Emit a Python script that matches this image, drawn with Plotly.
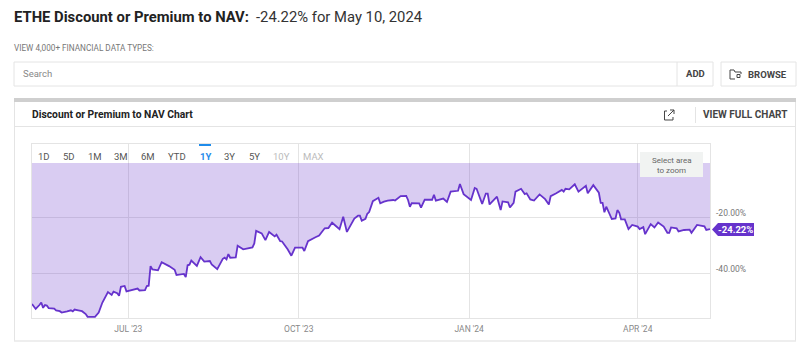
import pandas as pd
import plotly.graph_objects as go

START_DATE = "2023-05-10"
days_from_start = [0,2,4,5,6,7,8,9,12,13,15,16,19,21,22,23,25,27,29,30,34,36,38,41,43,44,46,47,48,50,51,54,57,58,61,62,63,64,65,68,70,74,77,78,82,83,84,85,86,89,91,93,96,97,100,103,104,105,106,107,110,111,114,119,120,121,124,126,128,131,132,134,135,138,140,142,146,147,149,153,155,158,160,162,166,168,170,174,176,177,178,180,181,182,184,187,188,190,192,195,196,199,202,203,204,205,209,210,212,216,217,218,222,224,226,230,231,233,237,239,240,243,245,246,247,251,253,254,257,258,260,261,264,266,267,269,271,274,277,279,280,283,286,287,288,290,293,295,299,300,303,306,307,308,309,310,313,315,316,317,318,320,322,324,327,328,330,331,334,336,338,341,343,344,345,348,349,352,355,356,359,363,364,366]
discount_pct = [-50.9,-52.7,-51.3,-50.4,-52.3,-51.3,-51.5,-52.4,-52.6,-53.2,-53.5,-54.0,-53.6,-53.2,-53.6,-52.9,-53.2,-53.5,-54.5,-55.5,-55.5,-54.0,-50.4,-46.7,-47.7,-46.5,-47.1,-48.0,-44.8,-44.5,-46.4,-46.0,-45.4,-46.1,-46.0,-44.5,-44.4,-37.4,-38.6,-38.9,-36.0,-37.4,-38.7,-40.6,-40.2,-41.3,-37.1,-36.9,-35.4,-37.3,-34.2,-35.8,-35.6,-36.8,-38.5,-34.8,-34.4,-35.0,-33.1,-34.4,-34.3,-30.1,-31.4,-30.7,-29.3,-24.8,-25.7,-28.1,-25.2,-26.8,-26.2,-28.5,-28.6,-31.4,-33.7,-30.8,-30.8,-32.0,-28.5,-27.1,-26.5,-23.9,-23.8,-21.9,-24.2,-19.8,-25.2,-20.4,-19.4,-19.4,-21.2,-20.5,-18.7,-18.1,-14.2,-13.0,-15.0,-14.4,-14.0,-13.8,-14.0,-12.4,-12.3,-13.8,-16.2,-14.9,-15.0,-16.5,-13.7,-13.7,-11.9,-14.0,-13.3,-14.5,-10.8,-10.5,-8.1,-11.7,-13.8,-9.5,-9.8,-15.2,-11.5,-11.5,-15.4,-12.6,-17.4,-14.3,-14.6,-16.5,-14.8,-10.8,-9.8,-11.7,-11.4,-13.6,-14.0,-11.8,-13.5,-15.4,-12.4,-11.4,-10.2,-10.8,-9.8,-10.0,-8.2,-10.8,-8.7,-11.4,-8.5,-11.2,-14.8,-14.8,-18.2,-16.2,-20.6,-20.4,-17.4,-18.3,-20.7,-20.7,-24.2,-22.7,-23.3,-24.2,-23.5,-26.0,-22.4,-23.6,-21.8,-23.3,-25.5,-25.5,-23.6,-23.9,-25.0,-24.5,-24.4,-25.5,-22.7,-23.2,-24.5,-24.22]
x_tick_dates = ["2023-07-01", "2023-10-01", "2024-01-01", "2024-04-01"]
x_tick_labels = ["JUL '23", "OCT '23", "JAN '24", "APR '24"]
y_tick_values = [-20, -40]
y_tick_labels = ["-20.00%", "-40.00%"]
range_buttons = ["1D", "5D", "1M", "3M", "6M", "YTD", "1Y", "3Y", "5Y", "10Y", "MAX"]
range_button_x = [44, 69, 95, 121, 148, 177, 205, 230, 254, 281, 313]

W, H = 808, 354
FONT = "Roboto"
PURPLE = "#6633CC"
dates = pd.Timestamp(START_DATE) + pd.to_timedelta(days_from_start, unit="D")
CEILING = -0.55


def px(x):
    return x / W


def py(y):
    return 1 - y / H


fig = go.Figure()
fig.add_trace(go.Scatter(x=dates, y=[CEILING] * len(dates), mode="lines",
                         line=dict(width=0), hoverinfo="skip", showlegend=False))
fig.add_trace(go.Scatter(x=dates, y=discount_pct, mode="lines", fill="tonexty",
                         fillcolor="rgba(102,51,204,0.25)",
                         line=dict(color=PURPLE, width=1.8), showlegend=False))

annotations = []


def text(x, y, s, size=10, color="#333", bold=False, anchor="left"):
    annotations.append(dict(
        x=px(x), y=py(y), xref="paper", yref="paper", text=f"<b>{s}</b>" if bold else s,
        showarrow=False, xanchor=anchor, yanchor="middle", borderpad=0, borderwidth=0,
        font=dict(family=FONT, size=size, color=color)))


text(14, 17, "ETHE Discount or Premium to NAV:", 14.8, "#222", True)
text(256, 17, "-24.22% for May 10, 2024", 14.8, "#333")
text(14, 48, "VIEW 4,000+ FINANCIAL DATA TYPES:", 8.2, "#777")
text(23, 74, "Search", 9.5, "#888")
text(695, 74, "ADD", 9.5, "#444", True, "center")
text(748, 74.5, "BROWSE", 9.5, "#444", True)
text(32, 114.5, "Discount or Premium to NAV Chart", 10.3, "#222", True)
text(787, 115, "VIEW FULL CHART", 10, "#444", True, "right")
for label, x in zip(range_buttons, range_button_x):
    if label == "1Y":
        text(x, 156.5, label, 9.5, "#1F8CEB", True, "center")
    elif label in ("10Y", "MAX"):
        text(x, 156.5, label, 9.5, "#BBBBBB", False, "center")
    else:
        text(x, 156.5, label, 9.5, "#555", False, "center")
text(671.5, 160, "Select area", 8, "#666", False, "center")
text(671.5, 170, "to zoom", 8, "#666", False, "center")
text(735, 229.5, "-24.22%", 9.5, "#FFFFFF", True, "center")
for value, label in zip(y_tick_values, y_tick_labels):
    annotations.append(dict(
        x=px(716), y=value, xref="paper", yref="y", yshift=4.5, text=label, showarrow=False,
        xanchor="left", yanchor="middle", borderpad=0, borderwidth=0,
        font=dict(family=FONT, size=8.5, color="#777")))

LINE = "#E4E4E4"


def rect(x0, y0, x1, y1, fill="rgba(0,0,0,0)", line=LINE, w=1, layer="below"):
    return dict(type="rect", xref="paper", yref="paper", x0=px(x0), x1=px(x1), y0=py(y0), y1=py(y1),
                fillcolor=fill, line=dict(color=line, width=w), layer=layer)


def hline(x0, x1, y, color=LINE, w=1):
    return dict(type="line", xref="paper", yref="paper", x0=px(x0), x1=px(x1), y0=py(y), y1=py(y),
                line=dict(color=color, width=w))


def vline(x, y0, y1, color=LINE, w=1):
    return dict(type="line", xref="paper", yref="paper", x0=px(x), x1=px(x), y0=py(y0), y1=py(y1),
                line=dict(color=color, width=w))


def path(points, color="#444", w=1, fill=None, close=False):
    d = "M" + " L".join(f"{px(x):.5f},{py(y):.5f}" for x, y in points) + (" Z" if close else "")
    return dict(type="path", xref="paper", yref="paper", path=d,
                line=dict(color=color, width=w), fillcolor=fill or "rgba(0,0,0,0)", layer="above")


shapes = [
    rect(14, 62, 713, 86),
    vline(677, 62, 86),
    rect(721, 62, 796, 86),
    rect(14, 98, 796, 102, "#CFCFCF", "#CFCFCF", 0),
    vline(14.5, 102, 341),
    vline(795.5, 102, 341),
    hline(14, 796, 126.5),
    hline(14, 796, 341, "#E8E8E8", 1.5),
    vline(695.5, 107, 123),
    rect(199, 144, 211, 146, "#1F8CEB", "#1F8CEB", 0, "above"),
    rect(640, 152, 703, 177, "#F1F3F2", "#F1F3F2", 0, "above"),
    path([(712, 229.5), (718, 223), (754, 223), (754, 236), (718, 236)], PURPLE, 0, PURPLE, True),
    path([(667, 111), (664.5, 111), (664.5, 120), (673, 120), (673, 117)], "#444", 1),
    path([(668, 116), (674, 110)], "#444", 1),
    path([(670, 110), (674, 110), (674, 114)], "#444", 1),
    path([(730, 79), (730, 70), (734, 70), (735, 72), (741, 72), (741, 74)], "#444", 1),
    path([(730, 79), (735, 79)], "#444", 1),
    path([(737, 74.5), (740, 74.5), (740, 77.5), (737, 77.5)], "#444", 1, None, True),
]

fig.update_layout(
    width=W, height=H, margin=dict(l=0, r=0, t=0, b=0, pad=0),
    paper_bgcolor="white", plot_bgcolor="white", showlegend=False,
    font=dict(family=FONT), annotations=annotations, shapes=shapes,
    xaxis=dict(
        domain=[px(32), px(710)], range=["2023-05-10", "2024-05-10"], type="date",
        tickmode="array", tickvals=x_tick_dates, ticktext=x_tick_labels, ticks="",
        ticklabelstandoff=3,
        tickfont=dict(family=FONT, size=8.5, color="#888"), showgrid=True, gridcolor=LINE, gridwidth=1,
        showline=True, linecolor=LINE, linewidth=1, mirror=True, zeroline=False,
    ),
    yaxis=dict(
        domain=[py(318), py(144)], range=[-55.93, 6.2], side="right",
        tickmode="array", tickvals=y_tick_values, showticklabels=False, ticks="",
        showgrid=True, gridcolor=LINE, gridwidth=1,
        showline=True, linecolor=LINE, linewidth=1, mirror=True, zeroline=False,
    ),
)

fig.write_html("out.html", config=dict(displayModeBar=False),
               post_script="document.body.style.margin='0';document.body.style.overflow='hidden';")
